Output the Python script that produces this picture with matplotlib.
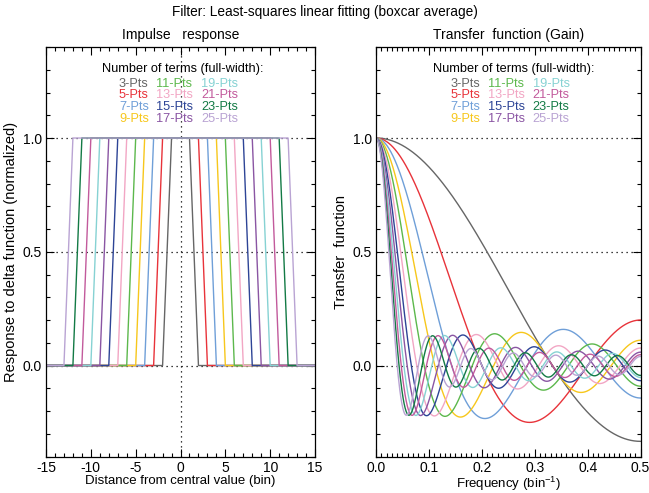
import numpy as np
import matplotlib
matplotlib.use("Agg")
import matplotlib.pyplot as plt
from matplotlib.ticker import MultipleLocator

plt.rcParams['font.family'] = ['Liberation Sans', 'DejaVu Sans']
plt.rcParams['axes.unicode_minus'] = False

# filter widths (full width, number of points) and their colours
widths = [3, 5, 7, 9, 11, 13, 15, 17, 19, 21, 23, 25]
colors = ['#666666', '#e8333a', '#6f9fd8', '#f7c71c',
          '#5cb84c', '#f2a6c4', '#2d4496', '#8a55a3',
          '#86d2d3', '#c25a9c', '#137a45', '#b9a3d3']
labels = [f"{n}-Pts" for n in widths]

# distance from central value (bins)
lags = np.arange(-15, 16)
# frequency axis (1/bin)
freq = np.linspace(0.0, 0.5, 501)

# boxcar impulse responses, normalised to 1
kernels = [(np.abs(lags) <= (n - 1) // 2).astype(float) for n in widths]

fig = plt.figure(figsize=(6.49, 4.93), dpi=100)
ax1 = fig.add_axes([0.0709, 0.0740, 0.4145, 0.8306])
ax2 = fig.add_axes([0.5794, 0.0740, 0.4076, 0.8306])

fig.text(0.5, 0.975, "Filter: Least-squares linear fitting (boxcar average)",
         ha='center', va='center', fontsize=9.8)

# left: impulse response
for k, c in zip(kernels, colors):
    ax1.plot(lags, k, color=c, lw=1.0)
ax1.set_xlim(-15, 15)
ax1.set_ylim(-0.4, 1.4)
ax1.axvline(0, color='k', ls=(0, (1, 3)), lw=0.9, zorder=0)
ax1.set_title("Impulse   response", fontsize=10, pad=6)
ax1.set_xlabel("Distance from central value (bin)", fontsize=9.5, labelpad=0)
ax1.set_ylabel("Response to delta function (normalized)", fontsize=10.5, labelpad=3)
ax1.xaxis.set_major_locator(MultipleLocator(5))
ax1.xaxis.set_minor_locator(MultipleLocator(1))

# right: transfer function (gain), from the kernels above
for k, c in zip(kernels, colors):
    w = k / k.sum()
    gain = (w[None, :] * np.cos(2 * np.pi * freq[:, None] * lags[None, :])).sum(axis=1)
    ax2.plot(freq, gain, color=c, lw=1.0)
ax2.set_xlim(0, 0.5)
ax2.set_ylim(-0.4, 1.4)
ax2.set_title("Transfer  function (Gain)", fontsize=10, pad=6)
ax2.set_xlabel("Frequency (bin$^{\\mathregular{-1}}$)", fontsize=9.5, labelpad=0)
ax2.set_ylabel("Transfer  function", fontsize=10.5, labelpad=3)
ax2.xaxis.set_major_locator(MultipleLocator(0.1))
ax2.xaxis.set_minor_locator(MultipleLocator(0.01))
ax2.xaxis.set_major_formatter(lambda v, p: f"{v:.1f}")

legend_pos = {ax1: (0.208, [0.271, 0.409, 0.576]),
              ax2: (0.214, [0.280, 0.422, 0.592])}

for ax in (ax1, ax2):
    for yv in (0.0, 0.5, 1.0):
        ax.axhline(yv, color='k', ls=(0, (1, 3)), lw=0.9, zorder=0)
    ax.yaxis.set_major_locator(MultipleLocator(0.5))
    ax.yaxis.set_minor_locator(MultipleLocator(0.1))
    ax.yaxis.set_major_formatter(lambda v, p: f"{v:.1f}")
    ax.tick_params(which='both', direction='in', top=True, right=True,
                   labelsize=10, width=0.8, pad=3)
    ax.tick_params(which='major', length=6)
    ax.tick_params(which='minor', length=3)
    for s in ax.spines.values():
        s.set_linewidth(0.9)
    hx, cols = legend_pos[ax]
    ax.text(hx, 0.946, "Number of terms (full-width):", transform=ax.transAxes,
            fontsize=9.2, va='center', ha='left')
    for i, (lab, c) in enumerate(zip(labels, colors)):
        col, row = divmod(i, 4)
        ax.text(cols[col], 0.910 - row * 0.0283, lab, transform=ax.transAxes,
                color=c, fontsize=9.2, va='center', ha='left')

fig.savefig("out.png", dpi=100)
